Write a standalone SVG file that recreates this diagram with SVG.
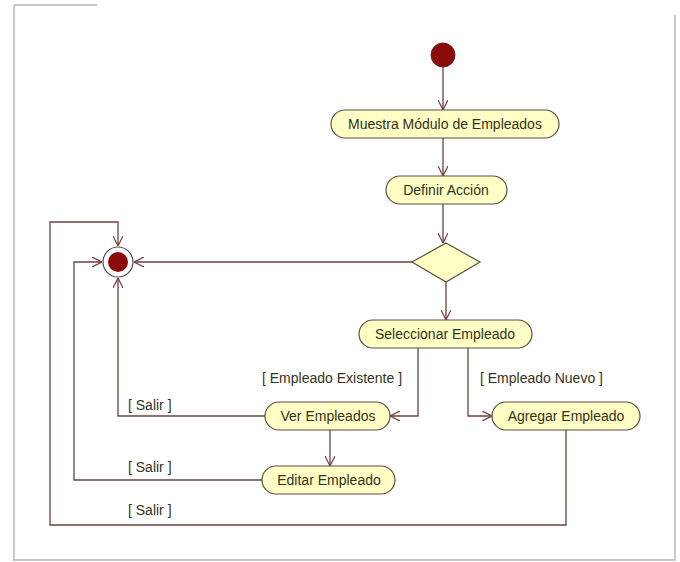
<svg xmlns="http://www.w3.org/2000/svg" width="680" height="562" viewBox="0 0 680 562">
  <style>
    .frame { fill: none; stroke: #c8c8c8; stroke-width: 2; }
    .act { fill: #ffffc6; stroke: #5a5040; stroke-width: 1.2; }
    .lbl { font-family: "Liberation Sans", Arial, sans-serif; font-size: 14px; fill: #33331a; text-anchor: middle; }
    .guard { font-family: "Liberation Sans", Arial, sans-serif; font-size: 14px; fill: #33331a; }
    .flow { fill: none; stroke: #6e4040; stroke-width: 1.3; }
    .flow-arrow { marker-end: url(#open); }
  </style>
  <defs>
    <marker id="open" viewBox="0 0 10 10" refX="10" refY="5" markerWidth="10" markerHeight="10" markerUnits="userSpaceOnUse" orient="auto">
      <path d="M0,0 L10,5 L0,10" fill="none" stroke="#6e4040" stroke-width="1.2"/>
    </marker>
  </defs>

  <rect width="680" height="562" fill="#ffffff"/>

  <!-- window frame -->
  <path class="frame" d="M14,5 H97 M14,5 V560 H675 V15"/>

  <!-- connectors -->
  <g id="connectors">
    <path class="flow flow-arrow" d="M443,67 V110"/>
    <path class="flow flow-arrow" d="M443,138 V176"/>
    <path class="flow flow-arrow" d="M443,204 V243"/>
    <path class="flow flow-arrow" d="M413,262 H134"/>
    <path class="flow flow-arrow" d="M446,282 V320"/>
    <path class="flow flow-arrow" d="M418,348 V416 H390"/>
    <path class="flow flow-arrow" d="M468,348 V416 H492"/>
    <path class="flow flow-arrow" d="M330,430 V466"/>
    <path class="flow flow-arrow" d="M265,416 H118 V278"/>
    <path class="flow flow-arrow" d="M262,480 H74 V262 H102"/>
    <path class="flow flow-arrow" d="M566,430 V525 H50 V222 H118 V246"/>
    <text class="guard" x="262" y="383">[ Empleado Existente ]</text>
    <text class="guard" x="480" y="383">[ Empleado Nuevo ]</text>
    <text class="guard" x="128" y="410">[ Salir ]</text>
    <text class="guard" x="128" y="472">[ Salir ]</text>
    <text class="guard" x="128" y="515">[ Salir ]</text>
  </g>

  <!-- start -->
  <g id="initial">
    <circle cx="443" cy="55" r="12" fill="#8b0a0a" stroke="#6e2020" stroke-width="1"/>
  </g>

  <g id="muestra">
    <rect class="act" x="331" y="110" width="228" height="28" rx="14"/>
    <text class="lbl" x="445" y="129">Muestra Módulo de Empleados</text>
  </g>

  <g id="definir">
    <rect class="act" x="386" y="176" width="121" height="28" rx="14"/>
    <text class="lbl" x="446" y="195">Definir Acción</text>
  </g>

  <g id="decision">
    <polygon class="act" points="446,243 480,262 446,282 412,262"/>
  </g>

  <g id="final">
    <circle cx="118" cy="262" r="15" fill="#ffffff" stroke="#5a4a4a" stroke-width="1.2"/>
    <circle cx="118" cy="262" r="10" fill="#8b0a0a"/>
  </g>

  <g id="seleccionar">
    <rect class="act" x="359" y="320" width="173" height="28" rx="14"/>
    <text class="lbl" x="445" y="339">Seleccionar Empleado</text>
  </g>

  <g id="ver">
    <rect class="act" x="265" y="402" width="125" height="28" rx="14"/>
    <text class="lbl" x="328" y="421">Ver Empleados</text>
  </g>

  <g id="agregar">
    <rect class="act" x="492" y="402" width="148" height="28" rx="14"/>
    <text class="lbl" x="566" y="421">Agregar Empleado</text>
  </g>

  <g id="editar">
    <rect class="act" x="262" y="466" width="133" height="28" rx="14"/>
    <text class="lbl" x="329" y="485">Editar Empleado</text>
  </g>
</svg>
